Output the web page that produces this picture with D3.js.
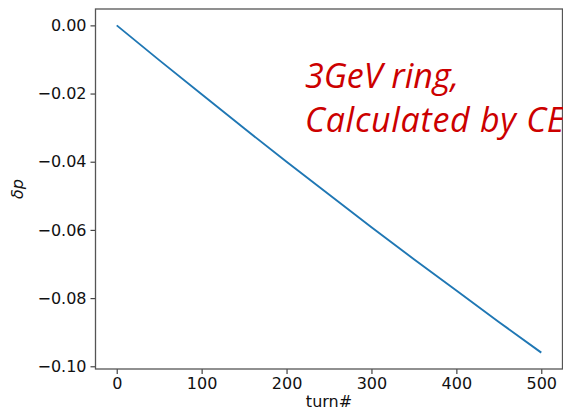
<!DOCTYPE html>
<html>
<head>
<meta charset="utf-8">
<script src="https://cdn.jsdelivr.net/npm/d3@7"></script>
<style>
  html, body { margin: 0; padding: 0; background: #fff; }
  svg { display: block; }
  .tick text { font-family: "DejaVu Sans", sans-serif; font-size: 16px; fill: #111; }
</style>
</head>
<body>
<svg id="chart" width="563" height="410"></svg>
<script>
// Momentum deviation per turn
const turns = [0, 50, 100, 150, 200, 250, 300, 350, 400, 450, 500];
const deltaP = [0, -0.0102, -0.0202, -0.0302, -0.0400, -0.0496, -0.0592, -0.0686, -0.0778, -0.0870, -0.0960];

const xTicks = [0, 100, 200, 300, 400, 500];
const yTicks = [0, -0.02, -0.04, -0.06, -0.08, -0.10];

const noteLines = ["3GeV ring,", "Calculated by CE"];

const svg = d3.select("#chart");
const box = { left: 95.5, right: 562.5, top: 9, bottom: 369 };

// 5% padding around the data range on both axes
const xMin = d3.min(turns), xMax = d3.max(turns);
const yMin = d3.min(deltaP), yMax = d3.max(deltaP);
const xPad = (xMax - xMin) * 0.05, yPad = (yMax - yMin) * 0.05;

const x = d3.scaleLinear().domain([xMin - xPad, xMax + xPad]).range([box.left, box.right]);
const y = d3.scaleLinear().domain([yMin - yPad, yMax + yPad]).range([box.bottom, box.top]);

// Data line
const line = d3.line().x((d, i) => x(turns[i])).y(d => y(d));
svg.append("path")
  .datum(deltaP)
  .attr("d", line)
  .attr("fill", "none")
  .attr("stroke", "#1f77b4")
  .attr("stroke-width", 1.9)
  .attr("stroke-linejoin", "round")
  .attr("stroke-linecap", "butt");

// Axes
const xAxis = d3.axisBottom(x).tickValues(xTicks).tickFormat(d3.format("d")).tickSize(5).tickPadding(4);
const yAxis = d3.axisLeft(y).tickValues(yTicks).tickFormat(d => d3.format(".2f")(d).replace("-", "\u2212")).tickSize(5).tickPadding(4);

const gx = svg.append("g").attr("transform", `translate(0,${box.bottom})`).call(xAxis);
const gy = svg.append("g").attr("transform", `translate(${box.left},0)`).call(yAxis);
[gx, gy].forEach(g => {
  g.select(".domain").remove();
  g.selectAll(".tick line").attr("stroke", "#444").attr("stroke-width", 1.2);
});

// Frame
svg.append("rect")
  .attr("x", box.left).attr("y", box.top)
  .attr("width", box.right - box.left).attr("height", box.bottom - box.top)
  .attr("fill", "none").attr("stroke", "#555").attr("stroke-width", 1.3);

// Axis titles
svg.append("text")
  .attr("x", (box.left + box.right) / 2).attr("y", 407)
  .attr("text-anchor", "middle")
  .attr("font-family", "DejaVu Sans, sans-serif").attr("font-size", 16).attr("fill", "#111")
  .text("turn#");

svg.append("text")
  .attr("transform", `translate(23,${(box.top + box.bottom) / 2}) rotate(-90)`)
  .attr("text-anchor", "middle")
  .attr("font-family", "DejaVu Sans, sans-serif").attr("font-style", "italic")
  .attr("font-size", 16).attr("fill", "#111")
  .text("\u03b4p");

// Annotation (second line runs past the right edge and is clipped by the svg)
const note = svg.append("text")
  .attr("font-family", "Open Sans, sans-serif").attr("font-style", "italic")
  .attr("font-size", 34).attr("fill", "#cc0000");
note.selectAll("tspan").data(noteLines).join("tspan")
  .attr("x", 305).attr("y", (d, i) => 88 + i * 44)
  .attr("letter-spacing", (d, i) => i === 1 ? 0.7 : 0)
  .text(d => d);
</script>
</body>
</html>
